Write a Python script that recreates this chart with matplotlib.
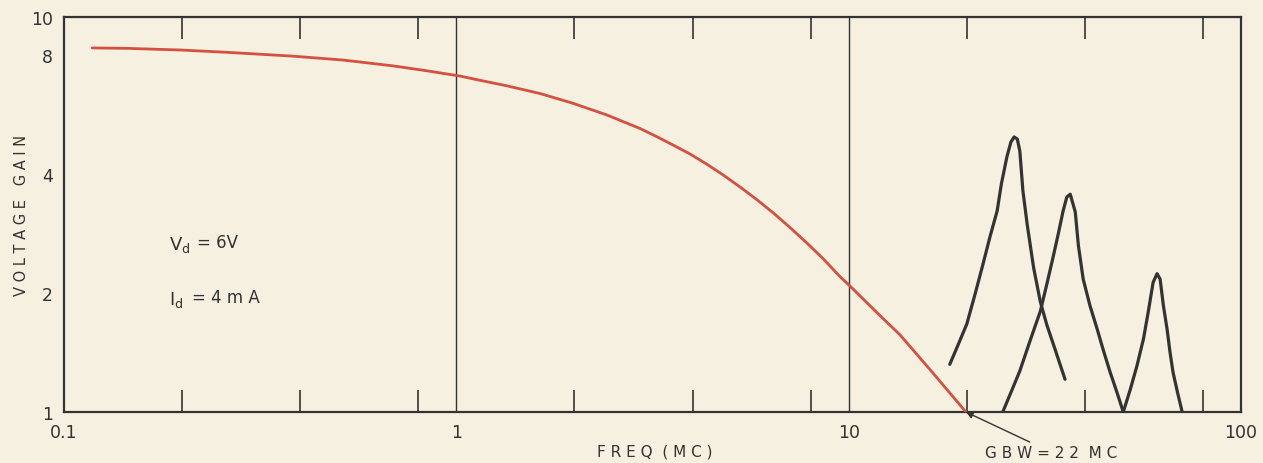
import numpy as np
import matplotlib.pyplot as plt

# red gain curve
freq = [0.118, 0.1445, 0.198, 0.26, 0.383, 0.515, 0.69, 0.84, 1.02, 1.105, 1.35, 1.635, 1.98,
        2.418, 2.94, 3.24, 3.57, 3.94, 4.35, 4.79, 5.29, 5.83, 6.43, 7.09, 7.82, 8.62, 9.51,
        10.1, 11.7, 13.5, 16.4, 19.9]
gain = [8.35, 8.33, 8.25, 8.14, 7.96, 7.78, 7.52, 7.31, 7.09, 6.97, 6.69, 6.40, 6.05,
        5.65, 5.22, 4.98, 4.74, 4.50, 4.24, 3.98, 3.71, 3.45, 3.19, 2.93, 2.68, 2.44, 2.20,
        2.08, 1.80, 1.57, 1.255, 1.0]

# three resonance peaks (black)
peak1_x = [18.1, 19.04, 20.0, 21.0, 22.0, 22.9, 23.9, 24.5, 25.3, 25.9, 26.4, 26.9, 27.3,
           27.8, 28.5, 29.6, 30.8, 32.0, 33.2, 34.4, 35.6]
peak1_y = [1.32, 1.486, 1.67, 1.99, 2.37, 2.77, 3.23, 3.78, 4.42, 4.82, 4.97, 4.91, 4.58,
           3.63, 2.99, 2.32, 1.90, 1.66, 1.49, 1.34, 1.21]
peak2_x = [24.7, 26.0, 27.3, 29.0, 30.8, 32.0, 33.2, 34.2, 35.2, 35.97, 36.7, 37.8, 38.5,
           39.6, 41.2, 43.0, 44.6, 46.4, 48.3, 50.1]
peak2_y = [1.0, 1.13, 1.27, 1.516, 1.80, 2.11, 2.47, 2.82, 3.23, 3.50, 3.56, 3.21, 2.64,
           2.17, 1.86, 1.62, 1.43, 1.26, 1.12, 1.0]
peak3_x = [50.1, 52.2, 54.3, 56.4, 58.0, 59.7, 61.1, 62.2, 63.4, 64.8, 65.9, 67.1, 68.9, 70.8]
peak3_y = [1.0, 1.14, 1.31, 1.53, 1.79, 2.13, 2.24, 2.17, 1.86, 1.62, 1.42, 1.26, 1.12, 1.0]

x_labels = ['0.1', '1', '10', '100']
y_ticks = [1, 2, 4, 8, 10]
x_minor = [0.2, 0.4, 0.8, 2, 4, 8, 20, 40, 80]
y_minor = [2, 4, 8]

paper = '#f6f0e0'
ink = '#333333'

fig = plt.figure(figsize=(12.63, 4.64), dpi=100, facecolor=paper)
ax = fig.add_axes([0.0507, 0.1099, 0.9319, 0.8513])
ax.set_facecolor(paper)
ax.set_xscale('log')
ax.set_yscale('log')
ax.set_xlim(0.1, 100)
ax.set_ylim(1, 10)

ax.plot(freq, gain, color='#d4503f', lw=2.0, solid_capstyle='round',
        solid_joinstyle='round', zorder=3)
for px, py in [(peak1_x, peak1_y), (peak2_x, peak2_y), (peak3_x, peak3_y)]:
    ax.plot(px, py, color=ink, lw=2.3, solid_joinstyle='round', solid_capstyle='round', zorder=3)

ax.axvline(1, color=ink, lw=1.0)
ax.axvline(10, color=ink, lw=1.0)

for s in ax.spines.values():
    s.set_color(ink)
    s.set_linewidth(1.6)

ax.set_xticks([0.1, 1, 10, 100])
ax.set_xticklabels(x_labels)
ax.set_yticks(y_ticks)
ax.set_yticklabels([str(v) for v in y_ticks])
ax.set_xticks(x_minor, minor=True)
ax.set_yticks(y_minor, minor=True)
ax.xaxis.set_minor_formatter(plt.NullFormatter())
ax.yaxis.set_minor_formatter(plt.NullFormatter())
ax.tick_params(which='major', length=0, labelsize=12.5, colors=ink, pad=8)
ax.tick_params(which='minor', direction='in', length=16, width=1.2, color=ink,
               top=True, right=True, bottom=True, left=True)

fig.text(22 / 1263, 1 - 215 / 464, 'V O L T A G E   G A I N', rotation=90, fontsize=10.5,
         color=ink, ha='center', va='center')
fig.text(655 / 1263, 1 - 452 / 464, 'F R E Q  ( M C )', fontsize=11, color=ink,
         ha='center', va='center')

ax.text(0.185, 2.58, r'$\mathrm{V_d}$', fontsize=13, color=ink)
ax.text(0.218, 2.61, '= 6V', fontsize=12, color=ink)
ax.text(0.185, 1.88, r'$\mathrm{I_d}$', fontsize=13, color=ink)
ax.text(0.212, 1.90, '= 4 m A', fontsize=12, color=ink)

ax.annotate('G B W = 2 2  M C', xy=(19.9, 1.0), xytext=(14, -29), textcoords='offset points',
            ha='left', va='center', fontsize=11, color=ink, annotation_clip=False,
            arrowprops=dict(arrowstyle='-|>', color=ink, lw=1.0, mutation_scale=10,
                            shrinkA=0, shrinkB=0))

fig.savefig('out.png', dpi=100, facecolor=paper)
